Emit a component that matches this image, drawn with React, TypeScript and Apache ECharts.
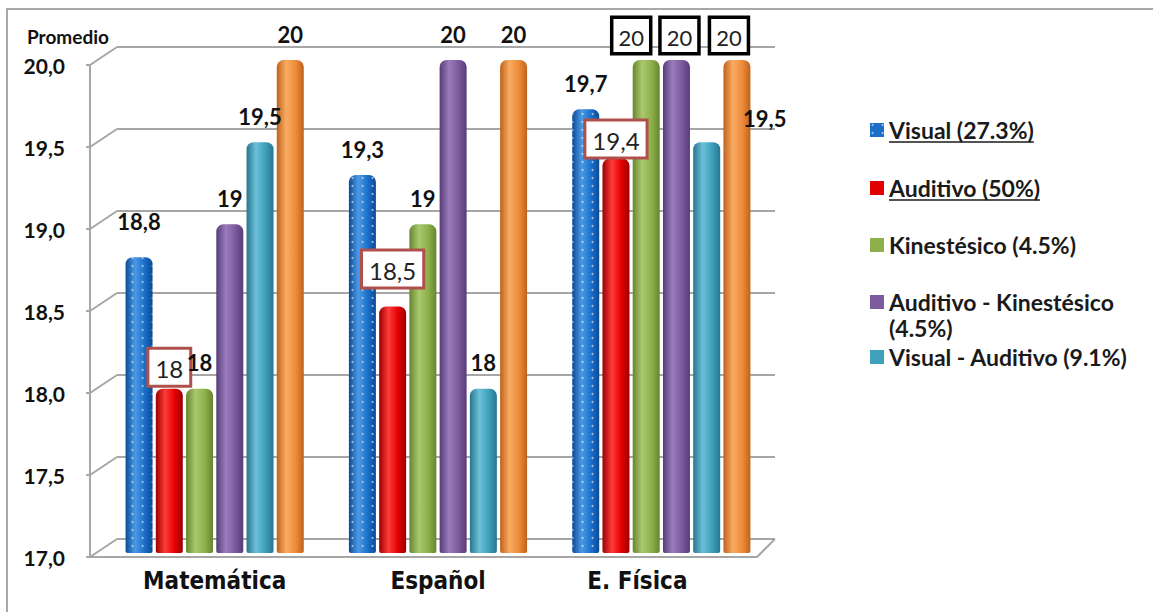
import React, { useEffect, useRef } from 'react';
import * as echarts from 'echarts';

const categories = ['Matemática', 'Español', 'E. Física'];
const seriesNames = [
  'Visual (27.3%)',
  'Auditivo (50%)',
  'Kinestésico (4.5%)',
  'Auditivo - Kinestésico (4.5%)',
  'Visual - Auditivo (9.1%)',
  'Visual - Kinestésico',
];
const visualVals = [18.8, 19.3, 19.7];
const auditivoVals = [18, 18.5, 19.4];
const kinestesicoVals = [18, 19, 20];
const audKinVals = [19, 20, 20];
const visAudVals = [19.5, 18, 19.5];
const visKinVals = [20, 20, 20];
const yMin = 17;
const yMax = 20;
const yStep = 0.5;
const yTicks = [17, 17.5, 18, 18.5, 19, 19.5, 20];
const legendNames = seriesNames.slice(0, 5);

const allValues = [visualVals, auditivoVals, kinestesicoVals, audKinVals, visAudVals, visKinVals];

// colours: [dark edge, highlight, base]
const palette = [
  ['#0c4a95', '#4b9ae6', '#1b6fc9'],
  ['#9c0000', '#ff3b3b', '#e30000'],
  ['#66862f', '#abc86d', '#8db04a'],
  ['#573c78', '#9a7cbb', '#7b5b9e'],
  ['#26768f', '#6cc0d8', '#3fa0bc'],
  ['#bf621c', '#f9ac62', '#ee8b3a'],
];

const FRONT = { left: 90, top: 65, right: 757, bottom: 557 };
const BACK = { left: 117, top: 47, right: 775, bottom: 539 };
const BARS = { left: 103, top: 60, right: 773, bottom: 553 };
const W = 1153;
const H = 612;

const fmt = (v: number) => (Number.isInteger(v) ? String(v) : v.toFixed(1).replace('.', ','));
const fmtAxis = (v: number) => v.toFixed(1).replace('.', ',');

const FONT = 'Lato, "Liberation Sans", sans-serif';
const NARROW = '"Liberation Sans Narrow", "DejaVu Sans Condensed", sans-serif';

const redBox = {
  backgroundColor: '#ffffff',
  borderColor: '#b0504d',
  borderWidth: 3,
  padding: [7, 6, 4, 6],
  fontSize: 24,
  fontWeight: 'normal',
  color: '#222',
  distance: 4,
};
const blackBox = {
  backgroundColor: '#ffffff',
  borderColor: '#000000',
  borderWidth: 3.5,
  padding: [7, 5, 4, 5],
  fontSize: 22,
  fontWeight: 'normal',
  color: '#222',
  distance: 8,
};

const overrides: Record<string, any> = {
  '0-0': { offset: [0, -10] },
  '1-0': redBox,
  '1-1': { ...redBox, offset: [0, -16] },
  '1-2': { ...redBox, distance: 2 },
  '2-2': { ...blackBox, offset: [-15, 0] },
  '3-2': { ...blackBox, offset: [3, 0] },
  '5-2': { ...blackBox, offset: [-8, 0] },
  '4-2': { offset: [58, 2] },
};

function cyl(i: number) {
  const [d, l, b] = palette[i];
  return {
    type: 'linear',
    x: 0,
    y: 0,
    x2: 1,
    y2: 0,
    colorStops: [
      { offset: 0, color: d },
      { offset: 0.35, color: l },
      { offset: 0.7, color: b },
      { offset: 1, color: d },
    ],
  };
}

export default function App() {
  const ref = useRef<HTMLDivElement>(null);
  useEffect(() => {
    if (!ref.current) return;
    const chart = echarts.init(ref.current, undefined, { renderer: 'svg' });

    const series = allValues.map((vals, s) => ({
      type: 'bar',
      name: seriesNames[s],
      xAxisIndex: 2,
      yAxisIndex: 2,
      barWidth: 27,
      barGap: '12%',
      z: 5,
      itemStyle: {
        color: cyl(s),
        borderRadius: [7, 7, 2, 2],
        decal:
          s === 0
            ? { symbol: 'circle', symbolSize: 0.5, color: 'rgba(255,255,255,0.6)', dashArrayX: 5, dashArrayY: 4, rotation: 0 }
            : { color: 'rgba(0,0,0,0)' },
      },
      label: {
        show: true,
        position: 'top',
        distance: 15,
        fontFamily: FONT,
        fontSize: 22,
        fontWeight: 'bold',
        color: '#111',
        formatter: (p: any) => fmt(p.value),
      },
      data: vals.map((v, i) => {
        const o = overrides[`${s}-${i}`];
        return o ? { value: v, label: o } : { value: v };
      }),
    }));

    const legendCenters = [130, 188, 245, 302, 357];
    const LEG_FS = 23;
    const legends = legendNames.map((name, i) => ({
      data: [{ name, itemStyle: { color: palette[i][2] } }],
      left: 870,
      top: legendCenters[i] - 13,
      orient: 'vertical',
      padding: 0,
      itemWidth: 14,
      itemHeight: 14,
      icon: 'rect',
      selectedMode: false,
      formatter: (n: string) => (i === 3 ? n.replace(' (4.5%)', '') : n),
      textStyle: {
        fontFamily: FONT,
        fontSize: LEG_FS,
        fontWeight: 'bold',
        color: '#1a1a1a',
        lineHeight: 26,
      },
    }));

    const gridLine = { lineStyle: { color: '#a6a6a6', width: 2 } };

    chart.setOption({
      animation: false,
      aria: { enabled: true, decal: { show: true } },
      title: {
        text: 'Promedio',
        left: 27,
        top: 27,
        padding: 0,
        textStyle: { fontFamily: FONT, fontSize: 19, fontWeight: 'bold', color: '#111' },
      },
      legend: legends,
      grid: [
        { left: BACK.left, top: BACK.top, width: BACK.right - BACK.left, height: BACK.bottom - BACK.top },
        { left: FRONT.left, top: FRONT.top, width: FRONT.right - FRONT.left, height: FRONT.bottom - FRONT.top },
        { left: BARS.left, top: BARS.top, width: BARS.right - BARS.left, height: BARS.bottom - BARS.top },
      ],
      xAxis: [
        { type: 'category', gridIndex: 0, data: categories, show: false },
        {
          type: 'category',
          gridIndex: 1,
          data: categories,
          axisLine: { show: true, lineStyle: { color: '#a6a6a6', width: 2 } },
          axisTick: { show: false },
          axisLabel: { show: false },
        },
        {
          type: 'category',
          gridIndex: 2,
          data: categories,
          axisLine: { show: false },
          axisTick: { show: false },
          axisLabel: {
            interval: 0,
            margin: 16,
            fontFamily: NARROW,
            fontSize: 24,
            fontWeight: 'bold',
            color: '#111',
            formatter: (v: string) => (v === 'E. Física' ? `{f|${v}}` : v),
            rich: {
              f: {
                fontFamily: NARROW,
                fontSize: 24,
                fontWeight: 'bold',
                color: '#111',
                padding: [0, 48, 0, 0],
              },
            },
          },
        },
      ],
      yAxis: [
        {
          type: 'value',
          gridIndex: 0,
          min: yMin,
          max: yMax,
          interval: yStep,
          axisLabel: { show: false },
          axisLine: { show: false },
          axisTick: { show: false },
          splitLine: { show: true, ...gridLine },
        },
        {
          type: 'value',
          gridIndex: 1,
          min: yMin,
          max: yMax,
          interval: yStep,
          axisLine: { show: true, lineStyle: { color: '#a6a6a6', width: 2 } },
          axisTick: { show: true, length: 4, lineStyle: { color: '#a6a6a6', width: 2 } },
          splitLine: { show: false },
          axisLabel: {
            margin: 25,
            fontFamily: FONT,
            fontSize: 21,
            fontWeight: 'bold',
            color: '#111',
            formatter: (v: number) => fmtAxis(v),
          },
        },
        { type: 'value', gridIndex: 2, min: yMin, max: yMax, interval: yStep, show: false },
      ],
      series,
    });

    // 3D-look connectors between front axis and back wall
    const lineStyle = { stroke: '#a6a6a6', lineWidth: 2 };
    const graphics: any[] = yTicks.map((v) => {
      const yf = chart.convertToPixel({ yAxisIndex: 1 }, v) as number;
      const yb = chart.convertToPixel({ yAxisIndex: 0 }, v) as number;
      return { type: 'line', z: 1, shape: { x1: FRONT.left, y1: yf, x2: BACK.left, y2: yb }, style: lineStyle };
    });
    const yf0 = chart.convertToPixel({ yAxisIndex: 1 }, yMin) as number;
    const yb0 = chart.convertToPixel({ yAxisIndex: 0 }, yMin) as number;
    graphics.push({ type: 'line', z: 1, shape: { x1: FRONT.right, y1: yf0, x2: BACK.right, y2: yb0 }, style: lineStyle });
    graphics.push({
      type: 'rect',
      z: 0,
      shape: { x: 7, y: 9, width: W + 20, height: H + 20 },
      style: { fill: 'none', stroke: '#8c8c8c', lineWidth: 1.5 },
    });
    // second line of the 4th legend entry
    graphics.push({
      type: 'text',
      z: 10,
      x: 889,
      y: legendCenters[3] + 26,
      style: {
        text: '(4.5%)',
        font: `bold ${LEG_FS}px ${FONT}`,
        fill: '#1a1a1a',
        verticalAlign: 'middle',
      },
    });
    // underline first two legend entries
    const ctx = document.createElement('canvas').getContext('2d');
    if (ctx) ctx.font = `bold ${LEG_FS}px ${FONT}`;
    [0, 1].forEach((i) => {
      const w = ctx ? ctx.measureText(legendNames[i]).width : 150;
      const y = legendCenters[i] + 12;
      graphics.push({
        type: 'line',
        z: 10,
        shape: { x1: 889, y1: y, x2: 889 + w, y2: y },
        style: { stroke: '#1a1a1a', lineWidth: 1.5 },
      });
    });
    chart.setOption({ graphic: graphics });

    return () => chart.dispose();
  }, []);

  return <div ref={ref} style={{ position: 'fixed', left: 0, top: 0, width: W, height: H, background: '#fff' }} />;
}
